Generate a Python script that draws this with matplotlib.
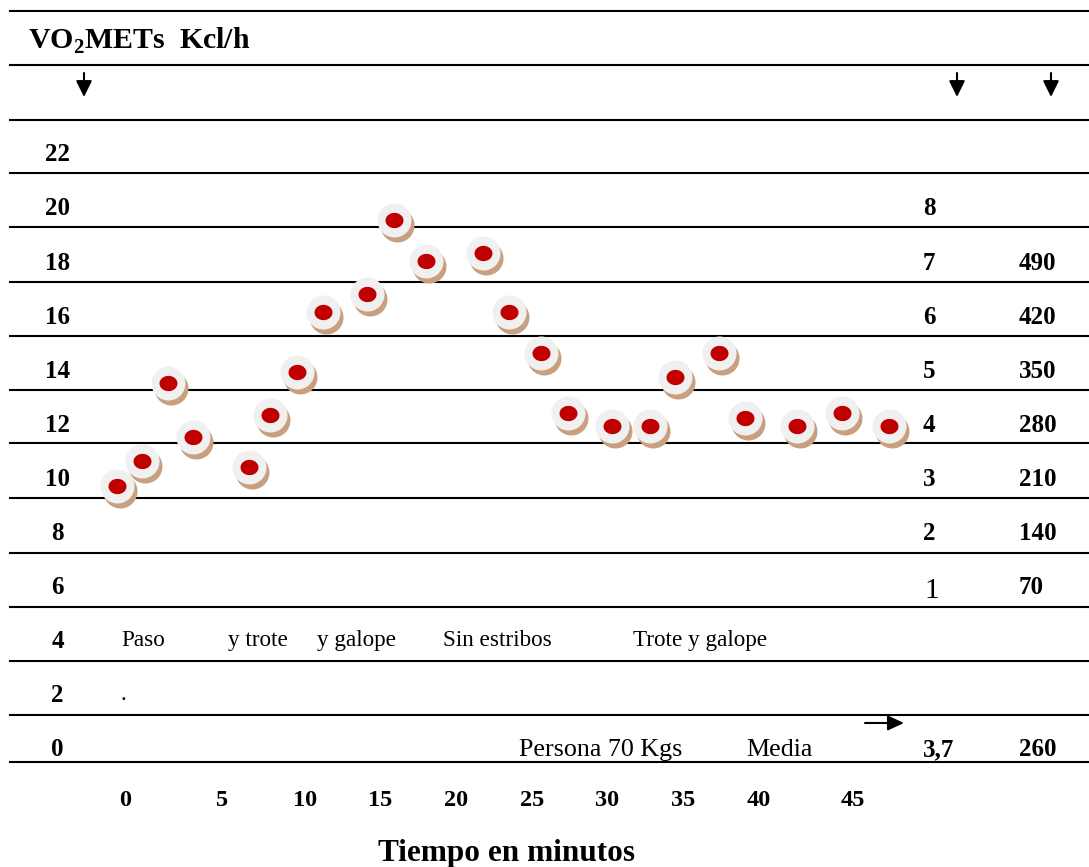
import numpy as np
import matplotlib
matplotlib.use("Agg")
import matplotlib.pyplot as plt
import matplotlib.transforms as mtransforms
from matplotlib.path import Path

plt.rcParams['font.family'] = ['Liberation Serif', 'DejaVu Serif']
plt.rcParams['mathtext.fontset'] = 'custom'
plt.rcParams['mathtext.rm'] = 'Liberation Serif'
plt.rcParams['mathtext.bf'] = 'Liberation Serif:bold'

# --- data ---
minutes = [-0.4, 0.9, 2.2, 3.5, 6.6, 7.9, 9.5, 11.2, 14.1, 15.9, 18.0, 21.8,
           23.5, 25.6, 27.4, 30.3, 32.8, 34.5, 37.4, 39.1, 42.0, 44.4, 46.9]
vo2 = [9.7, 10.6, 13.5, 11.5, 10.4, 12.3, 13.9, 16.1, 16.8, 19.5, 18.0, 18.3,
       16.1, 14.6, 12.4, 11.9, 11.9, 13.7, 14.6, 12.2, 11.9, 12.4, 11.9]

vo2_rows = [22, 20, 18, 16, 14, 12, 10, 8, 6, 4, 2, 0]
mets_rows = [20, 18, 16, 14, 12, 10, 8]
mets_labels = ['8', '7', '6', '5', '4', '3', '2']
kcal_rows = [18, 16, 14, 12, 10, 8, 6]
kcal_labels = ['490', '420', '350', '280', '210', '140', '70']
mean_mets = '3,7'
mean_kcal = '260'
x_ticks = [0, 5, 10, 15, 20, 25, 30, 35, 40, 45]
phases = ['Paso', 'y trote', 'y galope', 'Sin estribos', 'Trote y galope']

# --- layout (pixels of the 1089x867 picture) ---
W, H = 1089, 867
tick_px = [125, 222, 305, 380, 456, 532, 607, 683, 759, 853]
line_px = [11, 65, 120, 173, 227, 282, 336, 390, 443, 498, 553, 607, 661, 715, 762]
phase_px = [121, 228, 317, 443, 633]

fig = plt.figure(figsize=(W / 100, H / 100), dpi=100)
ax = fig.add_axes([0, 0, 1, 1])
ax.set_axis_off()

# x axis: the printed minute ticks are not evenly spaced, follow them
anchor_min = [-10] + x_ticks + [60]
anchor_px = [tick_px[0] - 10 * 19.4] + tick_px + [tick_px[-1] + 15 * 18.8]
fwd = lambda t: np.interp(t, anchor_min, anchor_px)
inv = lambda p: np.interp(p, anchor_px, anchor_min)
ax.set_xscale('function', functions=(fwd, inv))
ax.set_xlim(inv(0), inv(W))
ax.set_ylim(-4.40, 27.65)


def fy(y):
    return 1 - y / H


def put(x, y, s, **kw):
    fig.text(x / W, fy(y), s, va='baseline', **kw)


# horizontal rules
for y in line_px:
    ax.plot([10 / W, 1], [fy(y), fy(y)], color='black', lw=1.5,
            transform=ax.transAxes, zorder=1)

# title
put(28, 49, r'VO$_{\mathbf{2}}$METs  Kcl/h', fontsize=21.5, fontweight='bold')

# down arrows
for x in [84, 957, 1051]:
    ax.annotate('', xy=(x, H - 97), xytext=(x, H - 73), xycoords='figure pixels',
                textcoords='figure pixels',
                arrowprops=dict(arrowstyle='-|>,head_length=0.65,head_width=0.32',
                                color='black', lw=1.5, mutation_scale=15,
                                shrinkA=0, shrinkB=0))
# right arrow
ax.annotate('', xy=(904, H - 723), xytext=(865, H - 723), xycoords='figure pixels',
            textcoords='figure pixels',
            arrowprops=dict(arrowstyle='-|>,head_length=0.65,head_width=0.3',
                            color='black', lw=1.5, mutation_scale=15,
                            shrinkA=0, shrinkB=0))

# row labels through the y scale
row_tr = mtransforms.offset_copy(
    mtransforms.blended_transform_factory(fig.transFigure, ax.transData),
    fig=fig, x=0, y=-8.5, units='dots')
for v in vo2_rows:
    ax.text(57.5 / W, v, str(v), transform=row_tr, ha='center', va='baseline',
            fontsize=18, fontweight='bold')
for v, s in zip(mets_rows, mets_labels):
    ax.text(923 / W, v, s, transform=row_tr, ha='left', va='baseline',
            fontsize=18, fontweight='bold')
for v, s in zip(kcal_rows, kcal_labels):
    ax.text(1019 / W, v, s, transform=row_tr, ha='left', va='baseline',
            fontsize=18, fontweight='bold')
put(924, 598, '1', fontsize=21)

# phase labels
for x, s in zip(phase_px, phases):
    put(x, 646, s, fontsize=16.7)
put(120, 700, '.', fontsize=16.7)

# bottom row
put(519, 756, 'Persona 70 Kgs', fontsize=18.7)
put(746, 756, 'Media', fontsize=18.7)
put(923, 756, mean_mets, fontsize=18, fontweight='bold')
put(1019, 756, mean_kcal, fontsize=18, fontweight='bold')

# minute ticks through the x scale
tick_tr = mtransforms.blended_transform_factory(ax.transData, fig.transFigure)
for t in x_ticks:
    ax.text(t, fy(806), str(t), transform=tick_tr, ha='center', va='baseline',
            fontsize=17.5, fontweight='bold')
put(507, 861, 'Tiempo en minutos', fontsize=22.5, fontweight='bold', ha='center')

# markers: shadow, light ring, red dot
shadow_tr = mtransforms.offset_copy(ax.transData, fig=fig, x=3, y=-5, units='dots')
ring_size = (34 / (100 / 72)) ** 2
theta = np.linspace(0, 2 * np.pi, 60)
ellipse = Path(np.column_stack([np.cos(theta), 0.85 * np.sin(theta)]), closed=True)
dot_size = (18 / (100 / 72)) ** 2
ax.scatter(minutes, vo2, s=ring_size, color='#c9a07f', linewidths=0,
           transform=shadow_tr, zorder=2)
ax.scatter(minutes, vo2, s=ring_size, color='#f0f0f0', linewidths=0, zorder=3)
ax.scatter(minutes, vo2, s=dot_size, marker=ellipse, color='#c00000',
           linewidths=0, zorder=4)

fig.savefig('out.png', dpi=100)
